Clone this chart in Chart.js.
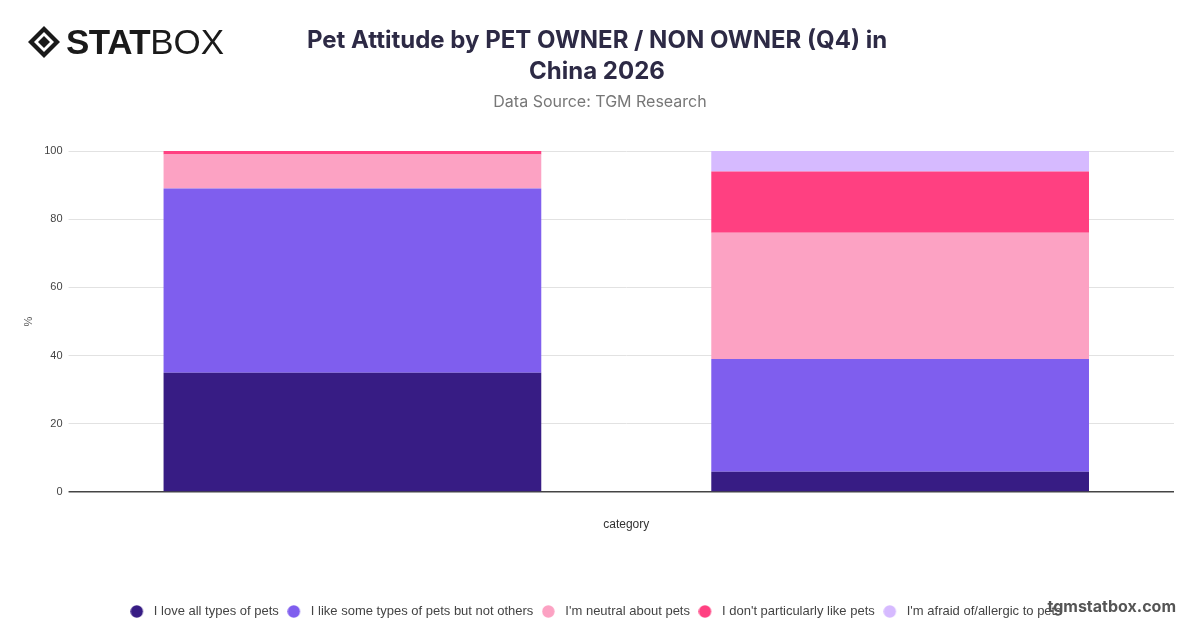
<!DOCTYPE html>
<html>
<head>
<meta charset="utf-8">
<script src="https://cdn.jsdelivr.net/npm/chart.js@4"></script>
<style>
  body { margin: 0; width: 1200px; height: 628px; background: #fff; overflow: hidden; font-family: Inter, "Liberation Sans", sans-serif; }
  #wrap { position: relative; width: 1200px; height: 628px; }
  #chart { position: absolute; left: 0; top: 0; }
  .logo { position: absolute; left: 27px; top: 22px; display: flex; align-items: center; color: #1a1a1a; }
  .logo .stat { font-family: "Liberation Sans", sans-serif; font-weight: 900; font-size: 35px; letter-spacing: -0.5px; margin-left: 5px; }
  .logo .box { font-family: "Liberation Sans", sans-serif; font-weight: 300; font-size: 35px; letter-spacing: 0px; }
  .title { position: absolute; left: 0; width: 1194px; top: 24px; text-align: center; font-weight: 700; font-size: 24px; line-height: 31px; color: #2d2a45; }
  .sub { position: absolute; left: 0; width: 1200px; top: 91px; text-align: center; font-size: 16px; color: #777; }
  .mark { position: absolute; right: 24px; top: 596px; font-weight: 700; font-size: 16px; color: #555; }
</style>
</head>
<body>
<div id="wrap">
  <canvas id="chart" width="1200" height="628"></canvas>
  <div class="logo">
    <svg width="34" height="34" viewBox="0 0 34 34">
      <polygon points="17,1 33,17 17,33 1,17" fill="#1a1a1a"/>
      <polygon points="17,7 27,17 17,27 7,17" fill="#fff"/>
      <polygon points="17,11 23,17 17,23 11,17" fill="#1a1a1a"/>
    </svg>
    <span class="stat">STAT</span><span class="box">BOX</span>
  </div>
  <div class="title">Pet Attitude by PET OWNER / NON OWNER (Q4) in<br>China 2026</div>
  <div class="sub">Data Source: TGM Research</div>
  <div class="mark">tgmstatbox.com</div>
</div>
<script>
// categories and series (% of respondents)
const categories = ['PET OWNER', 'NON OWNER'];
const loveAll = [35, 6];
const likeSome = [54, 33];
const neutral = [10, 37];
const dislike = [1, 18];
const afraid = [0, 6];
const yTicks = [0, 20, 40, 60, 80, 100];

const seriesLabels = ['I love all types of pets', 'I like some types of pets but not others',
    "I'm neutral about pets", "I don't particularly like pets", "I'm afraid of/allergic to pets"];
const seriesColors = ['#371c84', '#7f5eee', '#fca2c3', '#ff4081', '#d6baff'];

const chartFont = "'Liberation Sans', Helvetica, Arial, sans-serif";

// legend dot: small canvas with the circle a bit left of centre
function legendDot(color) {
    const c = document.createElement('canvas');
    c.width = 17;
    c.height = 13;
    const g = c.getContext('2d');
    g.fillStyle = color;
    g.beginPath();
    g.arc(6.5, 6.5, 6.2, 0, Math.PI * 2);
    g.fill();
    return c;
}

const ctx = document.getElementById('chart').getContext('2d');
const chart = new Chart(ctx, {
    type: 'bar',
    data: {
        labels: categories,
        datasets: [loveAll, likeSome, neutral, dislike, afraid].map((d, i) => ({
            label: seriesLabels[i],
            data: d,
            backgroundColor: seriesColors[i],
            pointStyle: legendDot(seriesColors[i])
        }))
    },
    options: {
        responsive: false,
        animation: false,
        layout: { padding: { top: 151, left: 18, right: 26, bottom: 0 } },
        datasets: {
            bar: { barPercentage: 0.862, categoryPercentage: 0.8, borderWidth: 0 }
        },
        scales: {
            x: {
                stacked: true,
                grid: { display: false },
                border: { display: false },
                ticks: { display: false },
                title: {
                    display: true,
                    text: 'category',
                    color: '#333',
                    font: { family: chartFont, size: 12 },
                    padding: { top: 17, bottom: 65 }
                }
            },
            y: {
                stacked: true,
                min: 0,
                max: 100,
                afterBuildTicks: function(axis) {
                    axis.ticks = yTicks.map(v => ({ value: v }));
                },
                grid: {
                    color: c => c.tick && c.tick.value === 0 ? '#444' : '#e2e2e2',
                    lineWidth: c => c.tick && c.tick.value === 0 ? 1.5 : 1,
                    tickLength: 10
                },
                border: { display: false },
                ticks: { color: '#444', font: { family: chartFont, size: 11 }, padding: 6 },
                title: {
                    display: true,
                    text: '%',
                    color: '#555',
                    font: { family: chartFont, size: 11 },
                    padding: { top: 4, bottom: 3 }
                }
            }
        },
        plugins: {
            legend: {
                position: 'bottom',
                labels: {
                    usePointStyle: true,
                    pointStyleWidth: 17,
                    boxHeight: 13,
                    padding: 8.5,
                    color: '#444',
                    font: { family: chartFont, size: 13 }
                }
            },
            tooltip: { enabled: false }
        }
    }
});
</script>
</body>
</html>
